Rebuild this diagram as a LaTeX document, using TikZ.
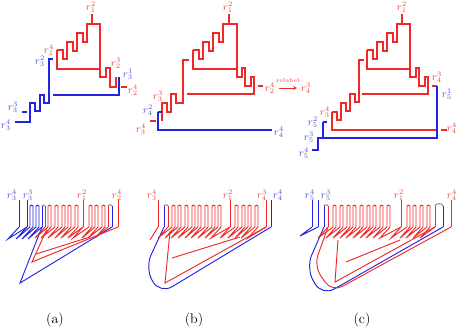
\documentclass[tikz,border=0pt]{standalone}
\definecolor{cR}{RGB}{240,40,40}
\definecolor{cB}{RGB}{35,35,225}
\definecolor{tR}{RGB}{235,70,70}
\definecolor{tB}{RGB}{80,80,215}
\newcommand\lr[2]{$r^{#2}_{#1}$}
\begin{document}
\begin{tikzpicture}[x=0.3mm,y=-0.3mm,
  rl/.style={draw=cR,line width=1.5pt},
  bl/.style={draw=cB,line width=1.5pt},
  rt/.style={draw=cR,line width=0.8pt},
  bt/.style={draw=cB,line width=0.8pt},
  gt/.style={draw=gray,line width=0.8pt},
  labR/.style={text=tR,inner sep=0pt,font=\small},
  labB/.style={text=tB,inner sep=0pt,font=\small},
  captxt/.style={inner sep=0pt,font=\large}]
\useasboundingbox (0,0) rectangle (458,330);
% ---------------- top (a)
\draw[rl] (57,50)--(57,69)--(100,69);
\draw[rl] (57,50)--(63,50)--(63,59)--(67,59)--(67,42)--(73,42)--(73,51)--(77,51)--(77,33)--(83,33)--(83,42)--(87,42)--(87,24)--(100,24)--(100,77)--(106,77)--(106,68)--(110,68)--(110,87)--(116,87)--(116,77);
\draw[rl] (92,14)--(92,24);
\draw[rl] (121,87)--(127,87);
\draw[bl] (15,122)--(30,122)--(30,103)--(35,103)--(35,111)--(40,111)--(40,95)--(44,95)--(44,103)--(49,103)--(49,59)--(53,59);
\draw[bl] (53,95)--(119,95)--(119,77);
\draw[bl] (22,112)--(27,112);
\node[labR] (a12) at (91,7) {\lr12};
\node[labR] (a14) at (49,50) {\lr14};
\node[labR] (a23) at (116,63) {\lr23};
\node[labR] (a24) at (133,90) {\lr24};
\node[labB] (a32) at (40,61) {\lr32};
\node[labB] (a31) at (128,74) {\lr31};
\node[labB] (a33) at (13,107) {\lr33};
\node[labB] (a34) at (6,125) {\lr34};
% ---------------- top (b)
\draw[rl] (193,50)--(193,69)--(237,69);
\draw[rl] (193,50)--(199,50)--(199,59)--(203,59)--(203,42)--(209,42)--(209,51)--(213,51)--(213,33)--(219,33)--(219,42)--(223,42)--(223,24)--(237,24)--(237,77)--(242,77)--(242,68)--(245,68)--(245,86)--(251,86)--(251,77)--(254,77)--(254,94)--(187,94);
\draw[rl] (229,14)--(229,24);
\draw[rl] (162,121)--(162,103)--(167,103)--(167,112)--(171,112)--(171,94)--(176,94)--(176,103)--(183,103)--(183,60)--(189,60);
\draw[rl] (150,121)--(156,121);
\draw[rl] (258,86)--(263,86);
\draw[bl] (158,112)--(158,130)--(272,130);
\draw[bl] (158,112)--(162,112);
\node[labR] (b12) at (228,7) {\lr12};
\node[labR] (b33) at (158,96) {\lr33};
\node[labR] (b34) at (141,129) {\lr34};
\node[labB] (b42) at (148,110) {\lr42};
\node[labR] (b24) at (270,88) {\lr24};
\node[labB] (b44) at (279,132) {\lr44};
\node[labR] (c43x) at (306,88) {\lr43};
\draw[cR,-stealth,line width=0.6pt] ([xshift=3pt]b24.east) -- ([xshift=-3pt]c43x.west);
\node[text=tR,font=\tiny,inner sep=0pt] (rel) at (288,80) {relabel};
% ---------------- top (c)
\draw[rl] (367,50)--(367,69)--(410,69);
\draw[rl] (367,50)--(373,50)--(373,59)--(377,59)--(377,42)--(383,42)--(383,51)--(387,51)--(387,33)--(393,33)--(393,42)--(397,42)--(397,24)--(410,24)--(410,77)--(416,77)--(416,68)--(419,68)--(419,86)--(425,86)--(425,77)--(428,77)--(428,94)--(362,94);
\draw[rl] (402,14)--(402,24);
\draw[rl] (332,112)--(332,130)--(437,130);
\draw[rl] (332,112)--(337,112)--(337,120)--(341,120)--(341,103)--(346,103)--(346,111)--(350,111)--(350,94)--(355,94)--(355,102)--(359,102)--(359,60)--(364,60);
\draw[rl] (432,86)--(437,86);
\draw[rl] (441,130)--(447,130);
\draw[bl] (323,122)--(323,138)--(437,138)--(437,86);
\draw[bl] (323,122)--(327,122);
\draw[bl] (312,150)--(318,150)--(318,138)--(323,138);
\node[labR] (c12) at (402,7) {\lr12};
\node[labR] (c43) at (437,77) {\lr43};
\node[labR] (c34) at (325,112) {\lr34};
\node[labR] (c44) at (452,128) {\lr44};
\node[labB] (c51) at (447,94) {\lr51};
\node[labB] (c52) at (313,122) {\lr52};
\node[labB] (c53) at (309,137) {\lr53};
\node[labB] (c54) at (304,153) {\lr54};
% ---------------- bottom (a)
\foreach \x in {30,36} {\draw[bt] (\x,227)--(\x,206) to[out=90,in=90] (\x+3,206)--(\x+3,227);}
\foreach \x in {48,55,62,68,75,89,95,102} {\draw[rt] (\x,227)--(\x,206) to[out=90,in=90] (\x+3,206)--(\x+3,227);}
\draw[bt] (42,227)--(42,206); \draw[gt] (42,206) to[out=90,in=90] (45,206); \draw[rt] (45,206)--(45,227);
\draw[rt] (108,227)--(108,206); \draw[gt] (108,206) to[out=90,in=90] (112,206); \draw[bt] (112,206)--(112,227);
\draw[bt] (19,200)--(19,227); \draw[bt] (27,200)--(27,227);
\draw[rt] (83,200)--(83,227); \draw[rt] (118,200)--(118,227);
\foreach \a/\b in {19/27,27/30,33/36,39/42} {\draw[bt] (\a,227)--(\a-11,239)--(\b,227);}
\draw[bt] (42,227)--(20,283)--(112,227);
\foreach \a/\b in {45/48,51/55,58/62,65/68,71/75,78/83,83/89,92/95,98/102,105/108} {\draw[rt] (\a,227)--(\a-10,238)--(\b,227);}
\draw[rt] (47,229)--(32,262)--(118,227);
\draw[rt] (36,254)--(90,237);
\node[labB] (d34) at (12,195) {\lr34};
\node[labB] (d33) at (28,195) {\lr33};
\node[labR] (d12) at (82,195) {\lr12};
\node[labR] (d24) at (117,195) {\lr24};
\node[captxt] (capa) at (55,320) {(a)};
% ---------------- bottom (b)
\foreach \x in {172,178,185,192,198,205,212,218,235,242,248,255} {\draw[rt] (\x,227)--(\x,206) to[out=90,in=90] (\x+3,206)--(\x+3,227);}
\draw[bt] (164,227)--(164,206); \draw[gt] (164,206) to[out=90,in=90] (168,206); \draw[rt] (168,206)--(168,227);
\draw[rt] (158,200)--(158,227); \draw[rt] (230,200)--(230,227); \draw[rt] (266,200)--(266,227);
\draw[bt] (271,200)--(271,227);
\draw[bt,rounded corners=12] (164,227)--(145,268)--(160,294)--(271,227);
\draw[rt] (158,227)--(150,240);
\foreach \a/\b in {168/172,175/178,181/185,188/192,195/198,201/205,208/212,215/218,221/230,230/235,238/242,245/248,251/255,258/266} {\draw[rt] (\a,227)--(\a-10,238)--(\b,227);}
\draw[rt] (170,231)--(165,283)--(266,227);
\draw[rt] (172,258)--(240,237);
\node[labR] (e34) at (152,195) {\lr34};
\node[labR] (e12) at (228,195) {\lr12};
\node[labR] (e43) at (262,195) {\lr43};
\node[labB] (e44) at (278,195) {\lr44};
\node[captxt] (capb) at (194,320) {(b)};
% ---------------- bottom (c)
\foreach \x in {333,340,347,353,360,367,373,380,387,407,413,420,427} {\draw[rt] (\x,227)--(\x,206) to[out=90,in=90] (\x+3,206)--(\x+3,227);}
\draw[bt] (324,227)--(324,206); \draw[gt] (324,206) to[out=90,in=90] (328,206); \draw[rt] (328,206)--(328,227);
\draw[rt] (435,227)--(435,206); \draw[gt] (435,206) to[out=90,in=90] (443,206); \draw[bt] (443,206)--(443,227);
\draw[bt] (312,200)--(312,227); \draw[bt] (318,200)--(318,227);
\draw[rt] (401,200)--(401,227); \draw[rt] (451,200)--(451,227);
\draw[bt] (312,227)--(300,236)--(318,227);
\draw[bt,rounded corners=12] (324,227)--(306,268)--(322,296)--(443,227);
\draw[rt,rounded corners=10] (328,227)--(314,266)--(332,292)--(451,227);
\foreach \a/\b in {328/333,336/340,343/347,350/353,356/360,363/367,370/373,376/380,383/387,390/401,401/407,410/413,416/420,423/427,430/435} {\draw[rt] (\a,227)--(\a-10,238)--(\b,227);}
\draw[rt] (338,240)--(335,282)--(435,227);
\draw[rt] (346,262)--(400,240);
\node[labB] (f54) at (310,195) {\lr54};
\node[labB] (f53) at (326,195) {\lr53};
\node[labR] (f12) at (399,195) {\lr12};
\node[labR] (f44) at (452,195) {\lr44};
\node[captxt] (capc) at (362,320) {(c)};
\end{tikzpicture}
\end{document}
